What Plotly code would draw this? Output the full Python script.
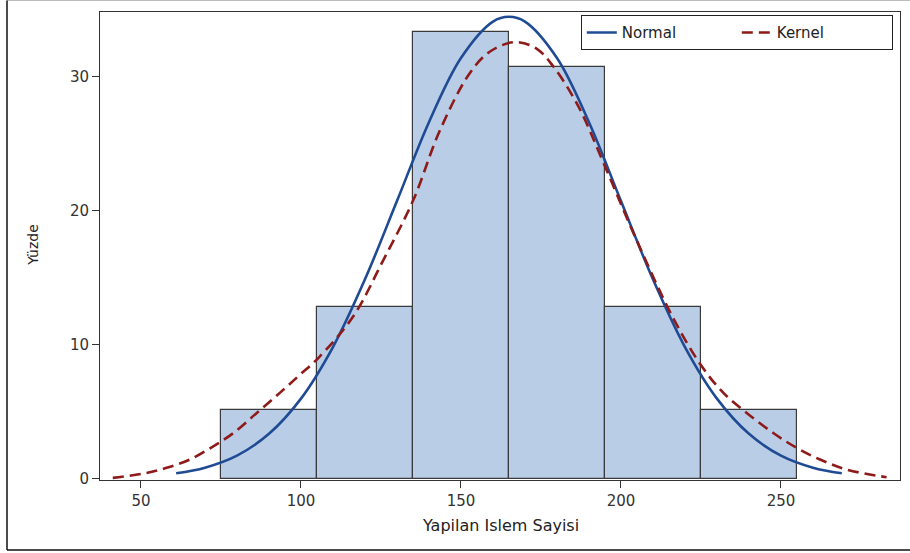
import plotly.graph_objects as go

# Histogram data (percent per bin)
bin_centers = [90, 120, 150, 180, 210, 240]
bin_percent = [5.13, 12.82, 33.33, 30.77, 12.82, 5.13]
bin_width = 30

# Normal curve
normal_x = [61, 70, 80, 90, 100, 110, 120, 130, 140, 150, 160, 165,
            170, 180, 190, 200, 210, 220, 230, 240, 250, 260, 269]
normal_y = [0.39, 0.81, 1.71, 3.34, 5.97, 9.82, 14.88, 20.73, 26.62, 31.41, 34.13, 34.49,
            34.13, 31.41, 26.62, 20.73, 14.88, 9.82, 5.97, 3.34, 1.71, 0.81, 0.39]

# Kernel curve
kernel_x = [41.2, 50.7, 58.0, 65.3, 72.6, 78.9, 86.2, 93.4, 99.7, 105.4, 116.3, 125.7,
            135.1, 143.4, 152.8, 159.1, 166.9, 173.7, 178.8, 186.7, 194.5, 204.9,
            216.3, 225.2, 232.0, 239.3, 247.6, 254.9, 262.2, 270.5, 283.0]
kernel_y = [0.05, 0.37, 0.8, 1.42, 2.41, 3.4, 4.9, 6.4, 7.76, 9.0, 12.1, 16.3,
            20.8, 26.0, 30.3, 31.9, 32.6, 32.1, 30.8, 27.8, 23.6, 17.8,
            12.0, 8.4, 6.4, 4.9, 3.4, 2.29, 1.42, 0.67, 0.1]

x_ticks = [50, 100, 150, 200, 250]
y_ticks = [0, 10, 20, 30]

FONT = "DejaVu Sans, Verdana, sans-serif"

fig = go.Figure()
fig.add_trace(go.Bar(
    x=bin_centers, y=bin_percent, width=bin_width,
    marker=dict(color="#B9CEE6", line=dict(color="#3a3a3a", width=1.2)),
    showlegend=False, hoverinfo="x+y"))
fig.add_trace(go.Scatter(
    x=normal_x, y=normal_y, mode="lines", name="Normal",
    line=dict(color="#1F4A94", width=2.6, shape="spline")))
fig.add_trace(go.Scatter(
    x=kernel_x, y=kernel_y, mode="lines", name="Kernel",
    line=dict(color="#8E1A1A", width=2.6, dash="11px,6px", shape="spline")))

fig.update_layout(
    width=910, height=553,
    margin=dict(l=100, r=10, t=12, b=73),
    paper_bgcolor="white", plot_bgcolor="white",
    font=dict(family=FONT, size=14, color="#333333"),
    bargap=0,
    showlegend=True,
    legend=dict(orientation="h", x=0.991, y=0.993, xanchor="right", yanchor="top",
                bordercolor="#222222", borderwidth=1, bgcolor="white",
                font=dict(family=FONT, size=15, color="#222222"),
                entrywidth=110, entrywidthmode="pixels", tracegroupgap=0),
    xaxis=dict(range=[37.2, 287.2], tickvals=x_ticks, ticks="outside", ticklen=7,
               tickcolor="#333333", showgrid=False, zeroline=False, automargin=False,
               showline=True, mirror=True, linecolor="#333333", linewidth=1,
               tickfont=dict(family=FONT, size=15, color="#333333")),
    yaxis=dict(range=[-0.11, 34.85], tickvals=y_ticks, ticks="outside", ticklen=7,
               tickcolor="#333333", showgrid=False, zeroline=False, automargin=False,
               showline=True, mirror=True, linecolor="#333333", linewidth=1,
               tickfont=dict(family=FONT, size=15, color="#333333")),
    annotations=[
        dict(text="Yapilan Islem Sayisi", xref="paper", yref="paper", x=0.5, y=-0.0962,
             xanchor="center", yanchor="middle", showarrow=False,
             font=dict(family=FONT, size=16, color="#222222")),
        dict(text="Yüzde", xref="paper", yref="paper", x=-0.084, y=0.502, textangle=-90,
             xanchor="center", yanchor="middle", showarrow=False,
             font=dict(family=FONT, size=14, color="#222222")),
    ],
)

# outer graph border
fig.add_shape(type="line", xref="paper", yref="paper", x0=-0.11625, x1=1.02, y0=1.0246, y1=1.0246,
              line=dict(color="#bbbbbb", width=1))
fig.add_shape(type="line", xref="paper", yref="paper", x0=-0.11625, x1=-0.11625, y0=1.0246, y1=-0.1496,
              line=dict(color="#111111", width=1.5))
fig.add_shape(type="line", xref="paper", yref="paper", x0=-0.11625, x1=1.02, y0=-0.1496, y1=-0.1496,
              line=dict(color="#111111", width=1.5))

fig.write_html("out.html", config={"displayModeBar": False},
               post_script="document.body.style.margin='0';document.body.style.overflow='hidden';")
